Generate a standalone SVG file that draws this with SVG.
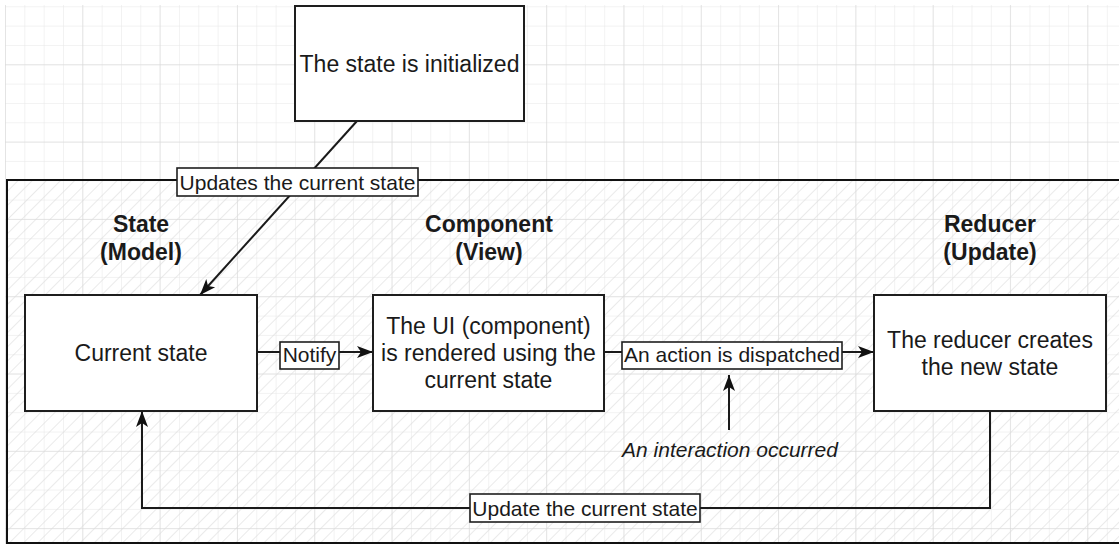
<svg xmlns="http://www.w3.org/2000/svg" width="1119" height="544" viewBox="0 0 1119 544">
<style>
.box{fill:#fff;stroke:#1e1e1e;stroke-width:2}
.lbl{fill:#fff;stroke:#1e1e1e;stroke-width:1.6}
.t{font-family:"Liberation Sans",Arial,sans-serif;font-size:23px;fill:#1a1a1a;text-anchor:middle}
.l{font-family:"Liberation Sans",Arial,sans-serif;font-size:21px;fill:#1a1a1a;text-anchor:middle}
.h{font-weight:bold}
.i{font-style:italic}
.edge{fill:none;stroke:#1a1a1a;stroke-width:2}
</style>
<defs>
<pattern id="minor" x="5" y="6.3" width="19.33" height="19.33" patternUnits="userSpaceOnUse">
<path d="M0,0 V19.33 M0,0 H19.33" stroke="#e6e6e6" stroke-width="1" fill="none"/>
</pattern>
<pattern id="major" x="5" y="-13" width="77.3" height="77.3" patternUnits="userSpaceOnUse">
<path d="M0,0 V77.3 M0,0 H77.3" stroke="#d6d6d6" stroke-width="1" fill="none"/>
</pattern>
<pattern id="hatch" x="0" y="0" width="10" height="10" patternUnits="userSpaceOnUse" patternTransform="rotate(45)">
<line x1="0" y1="0" x2="0" y2="10" stroke="#dcdcdc" stroke-width="1.2"/>
</pattern>
<marker id="arr" viewBox="0 0 18 14" refX="17" refY="7" markerWidth="18" markerHeight="14" markerUnits="userSpaceOnUse" orient="auto">
<path d="M1,1 L17,7 L1,13 L5,7 Z" fill="#111"/>
</marker>
</defs>
<rect width="1119" height="544" fill="#fff"/>
<rect x="5" y="5" width="1114" height="539" fill="url(#minor)"/>
<rect x="5" y="5" width="1114" height="539" fill="url(#major)"/>
<g id="container">
<rect x="7" y="180" width="1120" height="363" fill="url(#hatch)" stroke="#111" stroke-width="2"/>
<text class="t h" x="141" y="232">State</text>
<text class="t h" x="141" y="260">(Model)</text>
<text class="t h" x="489" y="232">Component</text>
<text class="t h" x="489" y="260">(View)</text>
<text class="t h" x="990" y="232">Reducer</text>
<text class="t h" x="990" y="260">(Update)</text>
</g>
<g id="connectors">
<path class="edge" d="M357,121 L200,295" marker-end="url(#arr)"/>
<path class="edge" d="M257,352 L373,352" marker-end="url(#arr)"/>
<path class="edge" d="M604,352 L874,352" marker-end="url(#arr)"/>
<path class="edge" d="M729,430 L729,375" marker-end="url(#arr)"/>
<path class="edge" d="M990,411 L990,508 L142,508 L142,411" marker-end="url(#arr)"/>
<g id="lbl-updates"><rect class="lbl" x="177" y="168" width="241" height="28"/><text class="l" x="297.5" y="189.5">Updates the current state</text></g>
<g id="lbl-notify"><rect class="lbl" x="280" y="342" width="59" height="27"/><text class="l" x="309.5" y="362">Notify</text></g>
<g id="lbl-dispatch"><rect class="lbl" x="622" y="342" width="220" height="27"/><text class="l" x="732" y="362">An action is dispatched</text></g>
<g id="lbl-update"><rect class="lbl" x="470" y="494" width="230" height="28"/><text class="l" x="585" y="515.5">Update the current state</text></g>
<g id="lbl-interaction"><text class="l i" x="730" y="456.5">An interaction occurred</text></g>
</g>
<g id="init">
<rect class="box" x="295" y="6" width="229" height="115"/>
<text class="t" x="409.5" y="71.5">The state is initialized</text>
</g>
<g id="current">
<rect class="box" x="25" y="295" width="232" height="116"/>
<text class="t" x="141" y="361">Current state</text>
</g>
<g id="component">
<rect class="box" x="373" y="295" width="231" height="116"/>
<text class="t" x="488.5" y="334">The UI (component)</text>
<text class="t" x="488.5" y="361">is rendered using the</text>
<text class="t" x="488.5" y="388">current state</text>
</g>
<g id="reducer">
<rect class="box" x="874" y="295" width="232" height="116"/>
<text class="t" x="990" y="347.5">The reducer creates</text>
<text class="t" x="990" y="374.5">the new state</text>
</g>
</svg>
